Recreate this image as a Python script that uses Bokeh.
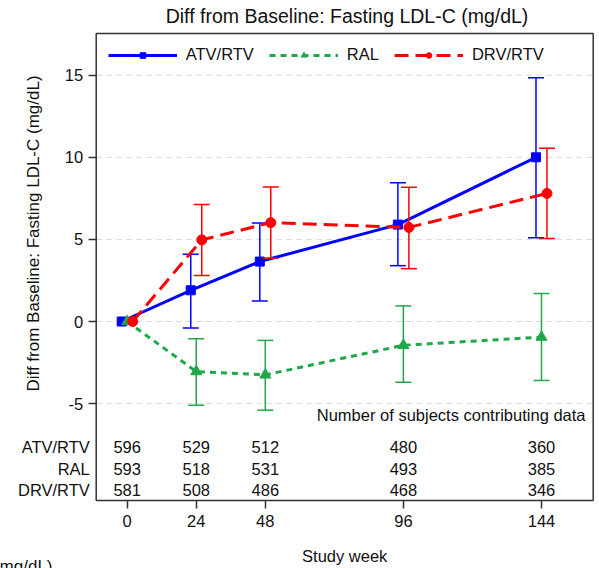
import math
from bokeh.plotting import figure
from bokeh.models import (ColumnDataSource, Range1d, FixedTicker, LinearAxis,
                          Legend, LegendItem, Label, BoxAnnotation)
from bokeh.embed import file_html
from bokeh.resources import INLINE
from bokeh.core.properties import value

# ---------------- data ----------------
weeks = [0, 24, 48, 96, 144]
week_labels = ["0", "24", "48", "96", "144"]
y_ticks = [-5, 0, 5, 10, 15]
y_tick_labels = ["-5", "0", "5", "10", "15"]
groups = ["ATV/RTV", "RAL", "DRV/RTV"]

atv_mean = [0, 1.9, 3.65, 5.9, 10.0]
atv_lo = [0, -0.4, 1.25, 3.4, 5.1]
atv_hi = [0, 4.1, 6.0, 8.45, 14.85]

ral_mean = [0, -3.05, -3.25, -1.45, -0.95]
ral_lo = [0, -5.1, -5.4, -3.7, -3.6]
ral_hi = [0, -1.05, -1.15, 0.95, 1.7]

drv_mean = [0, 4.97, 6.02, 5.73, 7.8]
drv_lo = [0, 2.8, 3.86, 3.22, 5.05]
drv_hi = [0, 7.13, 8.19, 8.17, 10.55]

atv_n = [596, 529, 512, 480, 360]
ral_n = [593, 518, 531, 493, 385]
drv_n = [581, 508, 486, 468, 346]

title_text = "Diff from Baseline: Fasting LDL-C (mg/dL)"
ylabel_text = "Diff from Baseline: Fasting LDL-C (mg/dL)"
xlabel_text = "Study week"
table_title = "Number of subjects contributing data"
cut_text = "(mg/dL)"

# ---------------- layout constants (pixels) ----------------
FONT = "Liberation Sans"
TXT = "#111111"
W, H = 599, 568
RIGHT_BORDER = 4
BOX_L, BOX_R, BOX_T, BOX_B = 95.7, 592.7, 33.0, 500.0
X_ZERO_PX, X_PX = 126.7, 2.877      # screen x of week 0, px per week
Y_ZERO_PX, Y_PX = 321.0, 16.42      # screen y of value 0, px per unit


def dx(sx):
    return (sx - X_ZERO_PX) / X_PX


def dy(sy):
    return (Y_ZERO_PX - sy) / Y_PX


XL, XR = dx(0), dx(W - RIGHT_BORDER)
YB, YT = dy(H), dy(0)
BX0, BX1, BY0, BY1 = dx(BOX_L), dx(BOX_R), dy(BOX_B), dy(BOX_T)
dodge = 5.5 / X_PX
cap = 8 / X_PX

series = [
    dict(name="ATV/RTV", mean=atv_mean, lo=atv_lo, hi=atv_hi, n=atv_n, color="#0000ff",
         dash="solid", marker="square", size=9, off=-dodge),
    dict(name="RAL", mean=ral_mean, lo=ral_lo, hi=ral_hi, n=ral_n, color="#1fa84a",
         dash="6 5", marker="triangle", size=11, off=0.0),
    dict(name="DRV/RTV", mean=drv_mean, lo=drv_lo, hi=drv_hi, n=drv_n, color="#ff0000",
         dash="14 7", marker="circle", size=10, off=dodge),
]

p = figure(width=W, height=H, output_backend="svg", toolbar_location=None,
           x_range=Range1d(XL, XR), y_range=Range1d(YB, YT),
           x_axis_location=None, y_axis_location=None,
           min_border_left=0, min_border_right=RIGHT_BORDER, min_border_top=0,
           min_border_bottom=0)
p.outline_line_color = None
p.xgrid.visible = False
p.ygrid.visible = False

# axes positioned on the edges of the drawn box
yax = LinearAxis(fixed_location=BX0, ticker=FixedTicker(ticks=y_ticks),
                 major_label_overrides={t: l for t, l in zip(y_ticks, y_tick_labels)})
xax = LinearAxis(fixed_location=BY0, ticker=FixedTicker(ticks=weeks),
                 major_label_overrides={w: l for w, l in zip(weeks, week_labels)})
for ax in (xax, yax):
    ax.axis_line_color = None
    ax.major_tick_line_color = "#333333"
    ax.major_tick_line_width = 1.5
    ax.major_tick_out = 8
    ax.major_tick_in = 0
    ax.minor_tick_line_color = None
    ax.major_label_text_font = FONT
    ax.major_label_text_font_size = "16.5px"
    ax.major_label_text_color = TXT
yax.major_label_standoff = 5
xax.major_label_standoff = 6
p.add_layout(yax, "left")
p.add_layout(xax, "below")

# dashed horizontal gridlines inside the box
gsrc = ColumnDataSource(dict(y=y_ticks, x0=[BX0] * len(y_ticks), x1=[BX1] * len(y_ticks)))
p.segment(x0="x0", y0="y", x1="x1", y1="y", source=gsrc, line_color="#d9d9d9",
          line_width=1, line_dash="6 4")

# box
p.add_layout(BoxAnnotation(left=BX0, right=BX1, bottom=BY0, top=BY1, fill_alpha=0,
                           line_color="#333333", line_width=1.5, line_alpha=1.0))

legend_items = []
for s in series:
    xs = [w + s["off"] for w in weeks]
    src = ColumnDataSource(dict(x=xs, y=s["mean"]))
    esrc = ColumnDataSource(dict(x=xs[1:], lo=s["lo"][1:], hi=s["hi"][1:],
                                 x0=[x - cap for x in xs[1:]], x1=[x + cap for x in xs[1:]]))
    p.segment(x0="x", y0="lo", x1="x", y1="hi", source=esrc, line_color=s["color"],
              line_width=1.5)
    p.segment(x0="x0", y0="lo", x1="x1", y1="lo", source=esrc, line_color=s["color"],
              line_width=1.5)
    p.segment(x0="x0", y0="hi", x1="x1", y1="hi", source=esrc, line_color=s["color"],
              line_width=1.5)
    ln = p.line("x", "y", source=src, line_color=s["color"], line_width=3,
                line_dash=s["dash"])
    mk = p.scatter("x", "y", source=src, marker=s["marker"], size=s["size"],
                   fill_color=s["color"], line_color=s["color"])
    legend_items.append(LegendItem(label=s["name"], renderers=[ln, mk]))

legend = Legend(items=legend_items, orientation="horizontal",
                location=(BOX_L + 12, H - (BOX_T + 9 + 22)),
                glyph_width=69, glyph_height=14, label_height=14, label_standoff=9,
                spacing=15, margin=0, padding=4,
                label_text_font=FONT, label_text_font_size="16.5px",
                label_text_color=TXT,
                border_line_color=None, background_fill_alpha=0)
p.add_layout(legend, "center")

# table of counts
row_y = [dy(sy) for sy in (446.7, 468.3, 489.3)]
for s, ry in zip(series, row_y):
    tsrc = ColumnDataSource(dict(x=weeks, y=[ry] * len(weeks), t=[str(v) for v in s["n"]]))
    p.text("x", "y", text="t", source=tsrc, text_align="center", text_baseline="middle",
           text_font=value(FONT), text_font_size="16.5px", text_color=TXT)
for g, ry in zip(groups, row_y):
    p.add_layout(Label(x=dx(BOX_L - 6.4), y=ry, text=g, text_align="right",
                       text_baseline="middle", text_font=FONT, text_font_size="16.5px",
                       text_color=TXT))
p.add_layout(Label(x=dx(BOX_R - 7.7), y=dy(414), text=table_title,
                   text_align="right", text_baseline="middle", text_font=FONT,
                   text_font_size="16.5px", text_color=TXT))

# chart title and axis titles
p.add_layout(Label(x=dx(346.5), y=dy(15), text=title_text, text_align="center",
                   text_baseline="middle", text_font=FONT, text_font_size="19.5px",
                   text_color=TXT))
p.add_layout(Label(x=dx(33), y=dy(233), text=ylabel_text, angle=math.pi / 2,
                   text_align="center", text_baseline="middle", text_font=FONT,
                   text_font_size="17px", text_color=TXT))
p.add_layout(Label(x=dx((BOX_L + BOX_R) / 2), y=dy(555), text=xlabel_text,
                   text_align="center", text_baseline="middle", text_font=FONT,
                   text_font_size="16.5px", text_color=TXT))

# partially visible text at the bottom-left edge of the screenshot
p.add_layout(Label(x=dx(52), y=dy(566), text=cut_text, text_align="right",
                   text_baseline="middle", text_font=FONT, text_font_size="17px",
                   text_color=TXT))

open("out.html", "w").write(file_html(p, INLINE))
